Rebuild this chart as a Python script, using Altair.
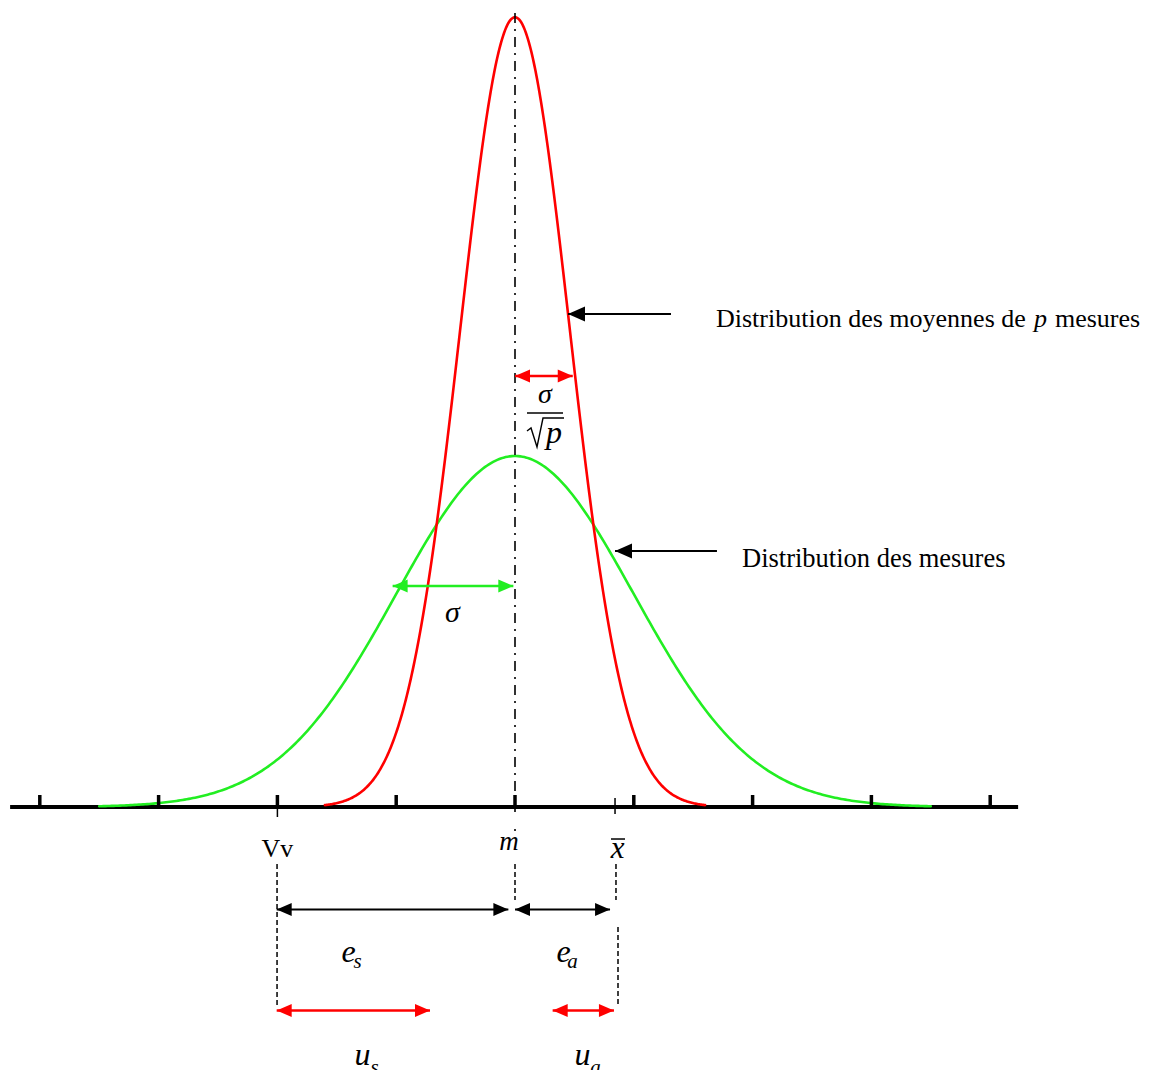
import altair as alt
import numpy as np
import pandas as pd

# ---------------- data (x in units of sigma, y relative to the peak of the measurement curve) ----
curve_names = ["mesures", "moyennes"]
curve_colors = ["#22ee22", "#ff0000"]
curve_mean = [0.0, 0.0]
curve_sd = [1.0, 0.46]
curve_peak = [1.0, 2.25]
curve_span = [3.5, 1.6]

tick_pos = [-4, -3, -2, -1, 0, 1, 2, 3, 4]
axis_ends = [-4.25, 4.235]

# arrows: tip/tail x, y, colour, which ends carry a head, head size (px^2 area)
arrow_x1 = [0.446, 0.842, 0.0, -1.03, -2.006, 0.0, -2.006, 0.317]
arrow_x2 = [1.313, 1.700, 0.486, -0.014, -0.056, 0.80, -0.7155, 0.833]
arrow_y = [1.4046, 0.7293, 1.2279, 0.6296, -0.292, -0.292, -0.5798, -0.5798]
arrow_color = ["#000000", "#000000", "#ff0000", "#22ee22", "#000000", "#000000", "#ff0000", "#ff0000"]
arrow_heads = ["left", "left", "both", "both", "both", "both", "both", "both"]
arrow_head_size = [289, 289, 225, 225, 225, 225, 225, 225]
arrow_width = [2, 2, 2.5, 2.5, 2, 2, 2.5, 2.5]

# dashed guides below the axis
guide_x = [-2.003, 0.0, 0.85, 0.867]
guide_y1 = [-0.1624, -0.1624, -0.1624, -0.3419]
guide_y2 = [-0.5698, -0.265, -0.265, -0.5641]

# centre (mean) line
center_top, center_bottom, center_dot = 2.2621, -0.0143, -0.0655

# labels
label_text = ["Distribution des moyennes de", "mesures", "Distribution des mesures"]
label_x = [1.6919, 4.545, 1.9108]
label_y = [1.3675, 1.3675, 0.6838]
label_size = [26, 26, 26.5]
label_italic_text = ["p"]
label_italic_x = [4.369]
label_italic_y = [1.3675]

math_text = ["σ", "p", "σ", "m", "x", "e", "s", "e", "a", "u", "s", "u", "a"]
math_x = [0.2525, 0.328, -0.526, -0.0505, 0.863, -1.4015, -1.326, 0.408, 0.484, -1.2837, -1.1827, 0.568, 0.6776]
math_y = [1.1510, 1.0370, 0.5271, -0.1225, -0.1453, -0.4416, -0.4587, -0.4416, -0.4587, -0.7350, -0.7607, -0.7350, -0.7607]
math_size = [28, 32, 30, 27, 31, 32, 21, 32, 21, 32, 21, 32, 21]

vv_text, vv_x, vv_y = "Vv", -2.0, -0.1425

# small strokes: fraction bar, overline of x-bar
stroke_x1 = [0.101, 0.808]
stroke_x2 = [0.404, 0.926]
stroke_y = [1.1225, -0.0912]

# radical sign of sqrt(p)
rad_x = [0.101, 0.1347, 0.1852, 0.2357, 0.4125]
rad_y = [1.0712, 1.0798, 1.0256, 1.1083, 1.1083]

# ---------------- build tables ----------------
rows = []
for n, c, mu, sd, pk, sp in zip(curve_names, curve_colors, curve_mean, curve_sd, curve_peak, curve_span):
    xs = np.linspace(mu - sp, mu + sp, 400)
    for xv in xs:
        rows.append({"curve": n, "color": c, "x": xv, "y": pk * np.exp(-0.5 * ((xv - mu) / sd) ** 2)})
curves = pd.DataFrame(rows)

shafts = pd.DataFrame({"x1": arrow_x1, "x2": arrow_x2, "y": arrow_y, "color": arrow_color, "w": arrow_width})
RIGHT = "M0,0L-2,-0.87L-2,0.87Z"
LEFT = "M0,0L2,-0.87L2,0.87Z"
heads = []
for a, b, y, c, h, s in zip(arrow_x1, arrow_x2, arrow_y, arrow_color, arrow_heads, arrow_head_size):
    heads.append({"x": a, "y": y, "color": c, "shape": LEFT, "size": s})
    if h == "both":
        heads.append({"x": b, "y": y, "color": c, "shape": RIGHT, "size": s})
heads = pd.DataFrame(heads)

PLOT_H = 1062
XS = alt.Scale(domain=[-4.2677, 5.2862], zero=False, nice=False)
YS = alt.Scale(domain=[-(PLOT_H - 799) / 351.0, 799 / 351.0], zero=False, nice=False)


def X(f="x"):
    return alt.X(f"{f}:Q", scale=XS, axis=None)


def Y(f="y"):
    return alt.Y(f"{f}:Q", scale=YS, axis=None)


base_line = alt.Chart(pd.DataFrame({"x1": [axis_ends[0]], "x2": [axis_ends[1]], "y": [0.0]})).mark_rule(
    color="#000000", strokeWidth=4).encode(x=X("x1"), x2="x2:Q", y=Y())

curve_layer = alt.Chart(curves).mark_line(strokeWidth=2.6, strokeCap="round").encode(
    x=X(), y=Y(), detail="curve:N", color=alt.Color("color:N", scale=None))

ticks = alt.Chart(pd.DataFrame({"x": tick_pos, "y1": 0.0, "y2": 0.0342})).mark_rule(
    color="#000000", strokeWidth=3.5).encode(x=X(), y=Y("y1"), y2="y2:Q")

small_ticks = alt.Chart(pd.DataFrame({"x": [-2.0, 0.842], "y1": [0.0342, 0.0256], "y2": [-0.0285, -0.0199]})).mark_rule(
    color="#000000", strokeWidth=1.5).encode(x=X(), y=Y("y1"), y2="y2:Q")

center = alt.Chart(pd.DataFrame({"x": [0.0], "y1": [center_top], "y2": [center_bottom]})).mark_rule(
    color="#000000", strokeWidth=1.6, strokeDash=[10, 6, 2, 6]).encode(x=X(), y=Y("y1"), y2="y2:Q")
center_dot_l = alt.Chart(pd.DataFrame({"x": [0.0], "y1": [center_dot + 0.003], "y2": [center_dot - 0.003]})).mark_rule(
    color="#000000", strokeWidth=1.6).encode(x=X(), y=Y("y1"), y2="y2:Q")

guides = alt.Chart(pd.DataFrame({"x": guide_x, "y1": guide_y1, "y2": guide_y2})).mark_rule(
    color="#000000", strokeWidth=1.5, strokeDash=[5, 3]).encode(x=X(), y=Y("y1"), y2="y2:Q")

shaft_layer = alt.Chart(shafts).mark_rule().encode(
    x=X("x1"), x2="x2:Q", y=Y(), color=alt.Color("color:N", scale=None),
    strokeWidth=alt.StrokeWidth("w:Q", scale=None))

head_layer = alt.Chart(heads).mark_point(filled=True, opacity=1, strokeWidth=0).encode(
    x=X(), y=Y(), color=alt.Color("color:N", scale=None),
    shape=alt.Shape("shape:N", scale=None), size=alt.Size("size:Q", scale=None))

strokes = alt.Chart(pd.DataFrame({"x1": stroke_x1, "x2": stroke_x2, "y": stroke_y})).mark_rule(
    color="#000000", strokeWidth=1.5).encode(x=X("x1"), x2="x2:Q", y=Y())

radical = alt.Chart(pd.DataFrame({"x": rad_x, "y": rad_y, "o": list(range(len(rad_x)))})).mark_line(
    color="#000000", strokeWidth=1.4).encode(x=X(), y=Y(), order="o:Q")

FONT = "Liberation Serif"
labels = alt.Chart(pd.DataFrame({"t": label_text, "x": label_x, "y": label_y, "s": label_size})).mark_text(
    font=FONT, align="left", baseline="alphabetic", color="#000000").encode(
    x=X(), y=Y(), text="t:N", size=alt.Size("s:Q", scale=None))
labels_it = alt.Chart(pd.DataFrame({"t": label_italic_text, "x": label_italic_x, "y": label_italic_y})).mark_text(
    font=FONT, fontSize=26, fontStyle="italic", align="left", baseline="alphabetic", color="#000000").encode(
    x=X(), y=Y(), text="t:N")
math = alt.Chart(pd.DataFrame({"t": math_text, "x": math_x, "y": math_y, "s": math_size})).mark_text(
    font=FONT, fontStyle="italic", align="center", baseline="alphabetic", color="#000000").encode(
    x=X(), y=Y(), text="t:N", size=alt.Size("s:Q", scale=None))
vv = alt.Chart(pd.DataFrame({"t": [vv_text], "x": [vv_x], "y": [vv_y]})).mark_text(
    font=FONT, fontSize=26, align="center", baseline="alphabetic", color="#000000").encode(x=X(), y=Y(), text="t:N")

chart = alt.layer(
    base_line, curve_layer, ticks, small_ticks, center, center_dot_l, guides,
    shaft_layer, head_layer, strokes, radical, labels, labels_it, math, vv
).properties(
    width=1135, height=PLOT_H, padding=0, autosize=alt.AutoSizeParams(type="none"), background="#ffffff"
).configure_view(stroke=None)

chart.save("out.html", embed_options={"renderer": "svg", "actions": False})
